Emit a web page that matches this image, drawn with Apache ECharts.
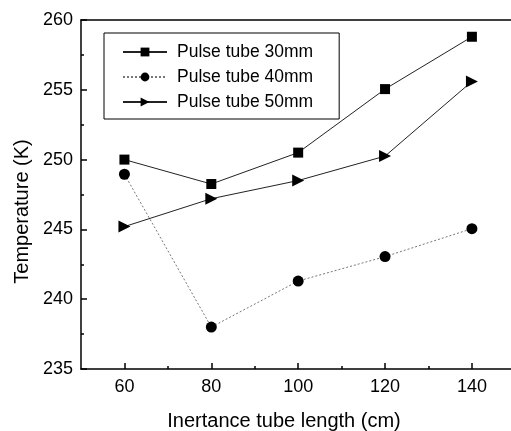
<!DOCTYPE html>
<html>
<head>
<meta charset="utf-8">
<script src="https://cdn.jsdelivr.net/npm/echarts@6/dist/echarts.min.js"></script>
<style>
  html, body { margin: 0; padding: 0; background: #fff; }
  #chart { width: 511px; height: 431px; }
</style>
</head>
<body>
<div id="chart"></div>
<script>
// tube lengths (cm)
var lengths = [60, 80, 100, 120, 140];
var temp30 = [250.0, 248.25, 250.5, 255.05, 258.8];
var temp40 = [248.95, 238.0, 241.3, 243.05, 245.05];
var temp50 = [245.2, 247.2, 248.5, 250.25, 255.6];
var xMajorTicks = [60, 80, 100, 120, 140];
var xMinorTicks = [70, 90, 110, 130];
var seriesNames = ['Pulse tube 30mm', 'Pulse tube 40mm', 'Pulse tube 50mm'];

var font = 'Liberation Sans, Arial, sans-serif';

function pairs(ys) {
    var out = [];
    for (var i = 0; i < lengths.length; i++) {
        out.push([lengths[i], ys[i]]);
    }
    return out;
}

var myChart = echarts.init(document.querySelector('#chart'));
var option = {
    backgroundColor: '#fff',
    animation: false,
    grid: {
        left: 81,
        top: 20,
        right: 0,
        bottom: 62,
        outerBoundsMode: 'none',
        containLabel: false
    },
    legend: {
        orient: 'vertical',
        left: 104,
        top: 33,
        padding: [10, 26, 8, 18],
        itemGap: 7,
        itemWidth: 44,
        itemHeight: 11,
        borderColor: '#000',
        borderWidth: 1,
        data: seriesNames,
        textStyle: {
            color: '#000',
            fontSize: 17.5,
            fontFamily: font,
            padding: [0, 0, 0, 5]
        }
    },
    xAxis: [
        {
            type: 'value',
            min: 50,
            max: 149,
            name: 'Inertance tube length (cm)',
            nameLocation: 'middle',
            nameGap: 42,
            nameTextStyle: {
                color: '#000',
                fontSize: 20,
                fontFamily: font,
                padding: [0, 24, 0, 0]
            },
            axisLine: { lineStyle: { color: '#000', width: 1.5 } },
            axisTick: {
                inside: true,
                length: 6,
                customValues: xMajorTicks,
                lineStyle: { color: '#000', width: 1.5 }
            },
            axisLabel: {
                customValues: xMajorTicks,
                color: '#000',
                fontSize: 18,
                fontFamily: font,
                margin: 9
            },
            splitLine: { show: false }
        },
        {
            // minor ticks only
            type: 'value',
            position: 'bottom',
            min: 50,
            max: 149,
            axisLine: { show: false },
            axisTick: {
                inside: true,
                length: 3,
                customValues: xMinorTicks,
                lineStyle: { color: '#000', width: 1.5 }
            },
            axisLabel: { show: false },
            splitLine: { show: false }
        },
        {
            // top frame line
            type: 'value',
            position: 'top',
            min: 50,
            max: 149,
            axisLine: { show: true, lineStyle: { color: '#000', width: 1.5 } },
            axisTick: { show: false },
            axisLabel: { show: false },
            splitLine: { show: false }
        }
    ],
    yAxis: {
        type: 'value',
        min: 235,
        max: 260,
        interval: 5,
        name: 'Temperature (K)',
        nameLocation: 'middle',
        nameGap: 48,
        nameTextStyle: {
            color: '#000',
            fontSize: 20,
            fontFamily: font,
            padding: [0, 34, 0, 0]
        },
        axisLine: { show: true, lineStyle: { color: '#000', width: 1.5 } },
        axisTick: { show: true, inside: true, length: 6, lineStyle: { color: '#000', width: 1.5 } },
        minorTick: { show: true, splitNumber: 2, length: 3, lineStyle: { color: '#000', width: 1.5 } },
        axisLabel: {
            color: '#000',
            fontSize: 18,
            fontFamily: font,
            margin: 8
        },
        splitLine: { show: false }
    },
    series: [
        {
            name: seriesNames[0],
            type: 'line',
            data: pairs(temp30),
            symbol: 'rect',
            symbolSize: 10,
            itemStyle: { color: '#000' },
            lineStyle: { color: '#222', width: 1 }
        },
        {
            name: seriesNames[1],
            type: 'line',
            data: pairs(temp40),
            symbol: 'circle',
            symbolSize: 11,
            itemStyle: { color: '#000' },
            lineStyle: { color: '#777', width: 1, type: [2, 2] }
        },
        {
            name: seriesNames[2],
            type: 'line',
            data: pairs(temp50),
            symbol: 'triangle',
            symbolSize: [12, 12],
            symbolRotate: -90,
            itemStyle: { color: '#000' },
            lineStyle: { color: '#222', width: 1 }
        }
    ]
};
myChart.setOption(option, true);
</script>
</body>
</html>
